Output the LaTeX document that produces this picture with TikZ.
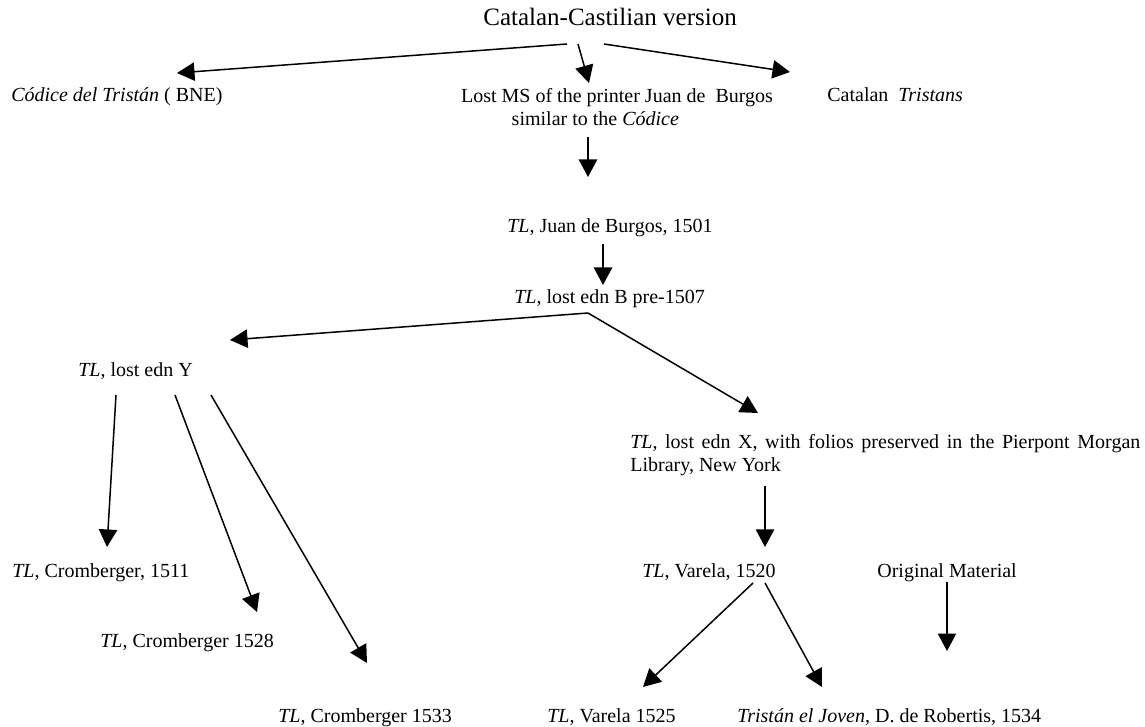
\documentclass[tikz,border=0pt]{standalone}
\usepackage{fontspec}
\setmainfont{Liberation Serif}
\usetikzlibrary{arrows.meta}

\begin{document}
\begin{tikzpicture}[x=0.6pt,y=-0.6pt,
  txt/.style={inner sep=0pt,anchor=base west,font=\fontsize{12}{14}\selectfont},
  arr/.style={-{Triangle[length=10.5pt,width=11pt]},line width=0.9pt}]
\useasboundingbox (0,0) rectangle (1145,727);

% Top level
\node[txt,font=\fontsize{15}{18}\selectfont] (title) at (483,26) {Catalan-Castilian version};
\node[txt] (codice) at (11,102) {\textit{Códice del Tristán} ( BNE)};
\node[txt,anchor=north,align=center] (lostms) at (617,88) {Lost MS of the printer Juan de\ \ Burgos\\similar to the \textit{Códice}\hspace*{26pt}};
\node[txt] (catalan) at (827,102) {Catalan\ \ \textit{Tristans}};

% Printed editions
\node[txt] (burgos) at (507,233) {\textit{TL}, Juan de Burgos, 1501};
\node[txt] (ednB) at (514,304) {\textit{TL}, lost edn B pre-1507};
\node[txt] (ednY) at (78,377) {\textit{TL}, lost edn Y};
\node[txt,anchor=north west,text width=306pt,align=justify] (ednX) at (630,434)
  {\textit{TL}, lost edn X, with folios preserved in the Pierpont Morgan\linebreak Library, New York};

% Y branch
\node[txt] (crom11) at (12,577) {\textit{TL}, Cromberger, 1511};
\node[txt] (crom28) at (100,648) {\textit{TL}, Cromberger 1528};
\node[txt] (crom33) at (278,722) {\textit{TL}, Cromberger 1533};

% X branch
\node[txt] (var20) at (642,577) {\textit{TL}, Varela, 1520};
\node[txt] (origmat) at (877,577) {Original Material};
\node[txt] (var25) at (547,722) {\textit{TL}, Varela 1525};
\node[txt] (joven) at (737,722) {\textit{Tristán el Joven}, D. de Robertis, 1534};

% Arrows
\draw[arr] ([shift={(84,18)}]title.base west) -- ([shift={(166,-29)}]codice.base west);
\draw[arr] ([shift={(95,18)}]title.base west) -- ([shift={(-28,-5)}]lostms.north);
\draw[arr] ([shift={(121,18)}]title.base west) -- ([shift={(-37,-30)}]catalan.base west);
\draw[arr] ([shift={(-29,11)}]lostms.south) -- ([shift={(81,-56)}]burgos.base west);
\draw[arr] ([shift={(96,11)}]burgos.base west) -- ([shift={(89,-19)}]ednB.base west);

\coordinate (fork) at ([shift={(74,9)}]ednB.base west);
\draw[arr] (fork) -- ([shift={(152,-37)}]ednY.base west);
\draw[arr] (fork) -- ([shift={(128,-21)}]ednX.north west);

\draw[arr] ([shift={(38,18)}]ednY.base west) -- ([shift={(95,-30)}]crom11.base west);
\draw[arr] ([shift={(97,18)}]ednY.base west) -- ([shift={(157,-36)}]crom28.base west);
\draw[arr] ([shift={(133,18)}]ednY.base west) -- ([shift={(89,-59)}]crom33.base west);

\draw[arr] ([shift={(135,52)}]ednX.north west) -- ([shift={(123,-30)}]var20.base west);
\draw[arr] ([shift={(111,6)}]var20.base west) -- ([shift={(96,-35)}]var25.base west);
\draw[arr] ([shift={(123,6)}]var20.base west) -- ([shift={(85,-35)}]joven.base west);

\coordinate (omend) at ([shift={(70,74)}]origmat.base west);
\draw[arr] ([shift={(70,5)}]origmat.base west) -- (omend);
\end{tikzpicture}
\end{document}
